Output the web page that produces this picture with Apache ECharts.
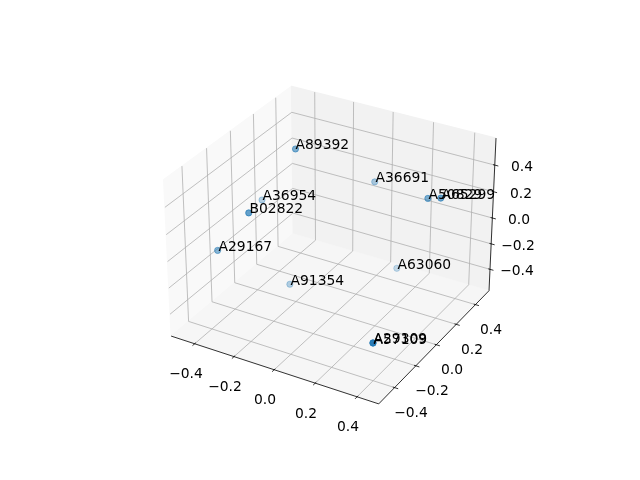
<!DOCTYPE html>
<html><head><meta charset="utf-8">
<style>html,body{margin:0;padding:0;background:#fff}#c{width:640px;height:480px}</style>
<script src="https://cdn.jsdelivr.net/npm/echarts@6/dist/echarts.min.js"></script>
</head><body><div id="c"></div>
<script>
const sampleIds = ['A89392','A36954','B02822','A29167','A91354','A63060','A36691','A50829','A65299','A57109','A29309'];
const xValues = [-0.211,-0.488,-0.211,-0.426,-0.285,0.054,-0.039,0.331,0.436,0.443,0.460];
const yValues = [0.030,0.203,-0.375,-0.290,0.095,0.502,0.449,0.233,0.140,-0.489,-0.523];
const zValues = [0.569,-0.045,0.374,-0.059,-0.544,-0.564,0.116,0.291,0.401,-0.192,-0.155];
const xLim = [-0.5217,0.5017], yLim = [-0.545,0.545], zLim = [-0.57,0.60];
const xTicks = [-0.4,-0.2,0.0,0.2,0.4], yTicks = [-0.4,-0.2,0.0,0.2,0.4], zTicks = [-0.4,-0.2,0.0,0.2,0.4];

// matplotlib-style perspective (elev 30, azim -60, box 4:4:3)
const box = [1.1905,1.1905,0.8929], dist = 10, ppu = 369.6/0.185, cx = 333, cy = 237.4;
const U=[0.8660254,0.5,0], V=[-0.25,0.4330127,0.8660254], W=[0.4330127,-0.75,0.5];
const dot=(a,b)=>a[0]*b[0]+a[1]*b[1]+a[2]*b[2];
function boxPt(p){return [
  ((p[0]-xLim[0])/(xLim[1]-xLim[0])-0.5)*box[0],
  ((p[1]-yLim[0])/(yLim[1]-yLim[0])-0.5)*box[1],
  ((p[2]-zLim[0])/(zLim[1]-zLim[0])-0.5)*box[2]];}
function depth(p){return dot(boxPt(p),W);}
function proj(p){const q=boxPt(p),f=1/(dist-dot(q,W));return [cx+ppu*dot(q,U)*f, cy-ppu*dot(q,V)*f];}

const [x0,x1]=xLim,[y0,y1]=yLim,[z0,z1]=zLim;
const panes=[
 {pts:[[x0,y0,z0],[x0,y1,z0],[x0,y1,z1],[x0,y0,z1]],fill:'#f9f9f9'},
 {pts:[[x0,y1,z0],[x1,y1,z0],[x1,y1,z1],[x0,y1,z1]],fill:'#f2f2f2'},
 {pts:[[x0,y0,z0],[x1,y0,z0],[x1,y1,z0],[x0,y1,z0]],fill:'#f6f6f6'}
];
const gridPolys=[];
xTicks.forEach(t=>gridPolys.push([[t,y0,z0],[t,y1,z0],[t,y1,z1]]));
yTicks.forEach(t=>gridPolys.push([[x1,t,z0],[x0,t,z0],[x0,t,z1]]));
zTicks.forEach(t=>gridPolys.push([[x0,y0,t],[x0,y1,t],[x1,y1,t]]));
const axisLines=[[[x0,y0,z0],[x1,y0,z0]],[[x1,y0,z0],[x1,y1,z0]],[[x1,y1,z0],[x1,y1,z1]]];
const ox=(x1-x0)/12*0.2, ix=ox/2, oy=(y1-y0)/12*0.2, iy=oy/2;
const tickLines=[];
xTicks.forEach(t=>tickLines.push([[t,y0-oy,z0],[t,y0+iy,z0]]));
yTicks.forEach(t=>tickLines.push([[x1+ox,t,z0],[x1-ix,t,z0]]));
zTicks.forEach(t=>tickLines.push([[x1+ox,y1,t],[x1-ix,y1,t]]));
const fmt=t=>(t<0?'\u2212':'')+Math.abs(t).toFixed(1);
const tickLabels=[];
xTicks.forEach(t=>{const p=proj([t,y0,z0]);tickLabels.push([Math.round(p[0]-9),Math.round(p[1]+30.5),fmt(t)]);});
yTicks.forEach(t=>{const p=proj([x1,t,z0]);tickLabels.push([Math.round(p[0]+16),Math.round(p[1]+25.5),fmt(t)]);});
zTicks.forEach(t=>{const p=proj([x1,y1,t]);tickLabels.push([Math.round(p[0]+27),Math.round(p[1]+2),fmt(t)]);});

const lineSeries=(polys,color,w,name)=>polys.map(poly=>({type:'line',name,silent:true,symbol:'none',animation:false,z:2,
  data:poly.map(proj),lineStyle:{color,width:w}}));

const depths=xValues.map((x,i)=>depth([x,yValues[i],zValues[i]]));
const dMin=Math.min(...depths),dMax=Math.max(...depths);
const points=sampleIds.map((id,i)=>{
  const a=0.3+0.7*(depths[i]-dMin)/(dMax-dMin);
  const c=`rgba(31,119,180,${a.toFixed(3)})`;
  const v=proj([xValues[i],yValues[i],zValues[i]]);
  return {value:v,name:id,itemStyle:{color:c,borderColor:c,borderWidth:1},
          label:{offset:[Math.round(v[0])-v[0],Math.round(v[1]-3.5)-v[1]]}};
});

const chart=echarts.init(document.getElementById('c'),null,{renderer:'canvas'});
chart.setOption({
  animation:false,backgroundColor:'#fff',
  grid:{left:0,right:0,top:0,bottom:0},
  xAxis:{type:'value',min:0,max:640,show:false},
  yAxis:{type:'value',min:0,max:480,inverse:true,show:false},
  series:[
    {type:'custom',silent:true,z:1,data:panes.map((p,i)=>[i]),
     renderItem:(ps,api)=>{const p=panes[api.value(0)];
       return {type:'polygon',shape:{points:p.pts.map(q=>api.coord(proj(q)))},style:{fill:p.fill,stroke:p.fill}};}},
    ...lineSeries(gridPolys,'#b0b0b0',0.8,'grid'),
    ...lineSeries(axisLines,'#000',0.8,'axis'),
    ...lineSeries(tickLines,'#000',0.8,'tick'),
    {type:'custom',silent:true,z:3,data:tickLabels.map((t,i)=>[i]),
     renderItem:(ps,api)=>{const t=tickLabels[api.value(0)],c=api.coord([t[0],t[1]]);
       return {type:'text',style:{x:c[0],y:c[1],text:t[2],fill:'#000',font:'13.89px "DejaVu Sans"',align:'center',verticalAlign:'middle'}};}},
    {type:'scatter',z:5,symbolSize:6.2,data:points,
     label:{show:true,position:'right',distance:-3.1,color:'#000',opacity:1,textBorderWidth:0,formatter:'{b}',fontFamily:'DejaVu Sans',fontSize:13.89}}
  ]
});
</script></body></html>
